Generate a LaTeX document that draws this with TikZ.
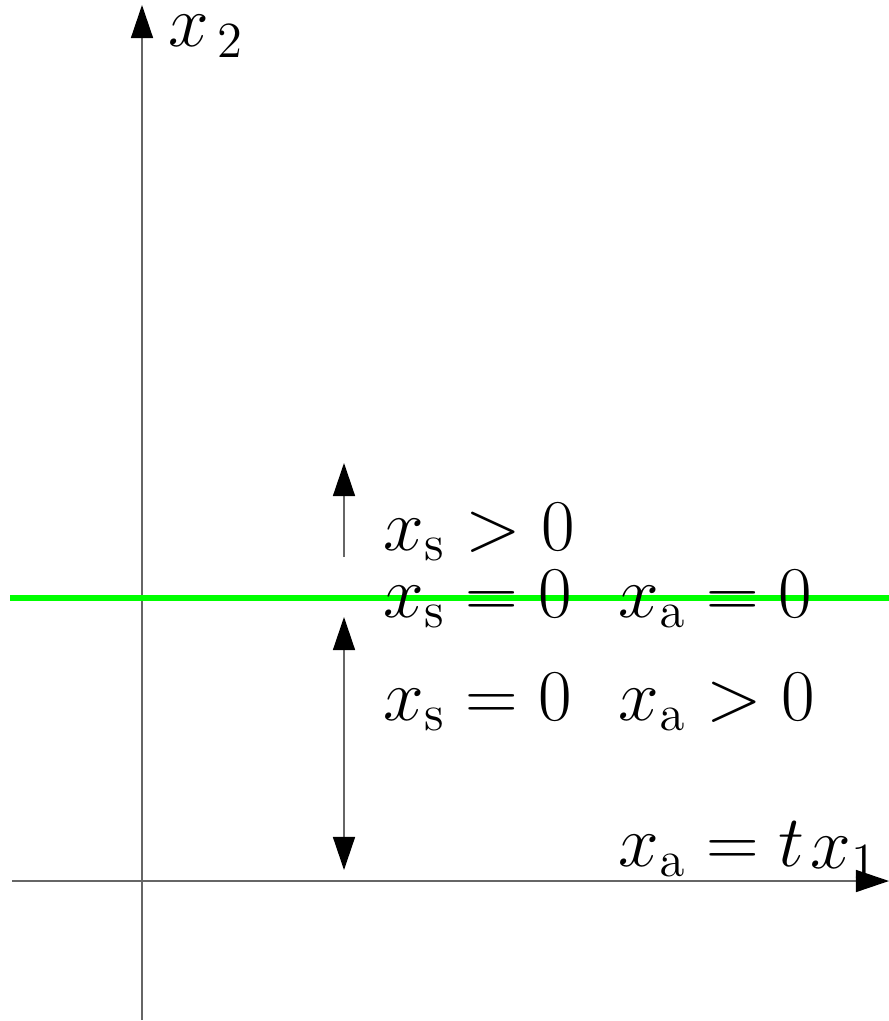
\documentclass[tikz,border=0pt]{standalone}
\usepackage{amsmath}
\usepackage{amssymb}
\usepackage{xcolor}
\usepackage{tikz}
\usetikzlibrary{arrows.meta}

\tikzset{
  bigtip/.style={-{Triangle[length=3.3mm,width=2.2mm,black]}},
  axisline/.style={line width=0.4pt,draw=black!60},
  label/.style={anchor=base west,inner sep=0pt,font=\huge}
}

\begin{document}
\begin{tikzpicture}[x=0.01cm,y=-0.01cm]
\useasboundingbox (0,0) rectangle (889,1021);
\coordinate (ybot) at (142,1020);
\coordinate (ytop) at (142,5);
\coordinate (xl) at (12,881);
\coordinate (xr) at (889,881);
\coordinate (gl) at (10,598);
\coordinate (gr) at (889,598);
\coordinate (up0) at (344,557);
\coordinate (up1) at (344,463);
\coordinate (dn0) at (344,617);
\coordinate (dn1) at (344,870);
\draw[axisline,bigtip] (ybot) -- (ytop);
\draw[axisline,bigtip] (xl) -- (xr);
\node[label] (x2) at (168,47) {$x_{\,2}$};
\node[label] (x1) at (810,868) {$x_1$};
\draw[green,line width=1.9pt] (gl) -- (gr);
\draw[axisline,bigtip] (up0) -- (up1);
\draw[axisline,{Triangle[length=3.3mm,width=2.2mm,black]}-{Triangle[length=3.3mm,width=2.2mm,black]}] (dn0) -- (dn1);
\node[label] (sp) at (383,550) {$x_{\mathrm{s}} > 0$};
\node[label] (s0) at (383,617) {$x_{\mathrm{s}} = 0$};
\node[label] (a0) at (618,617) {$x_{\mathrm{a}} = 0$};
\node[label] (s1) at (383,720) {$x_{\mathrm{s}} = 0$};
\node[label] (ap) at (618,720) {$x_{\mathrm{a}} > 0$};
\node[label] (at) at (618,866) {$x_{\mathrm{a}} = t$};
\end{tikzpicture}
\end{document}
